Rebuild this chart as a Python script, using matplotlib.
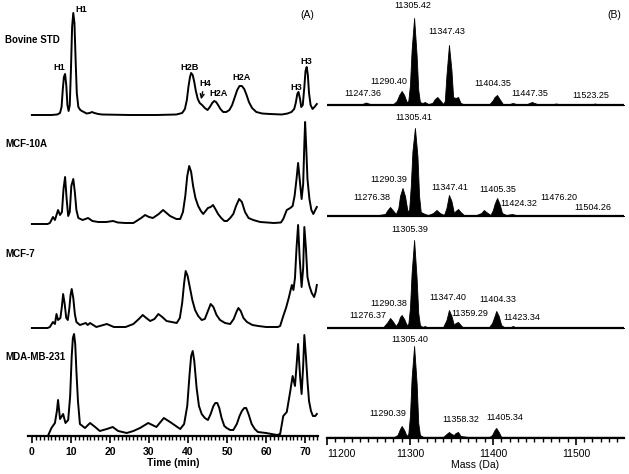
import numpy as np
import matplotlib
matplotlib.use('Agg')
import matplotlib.pyplot as plt

plt.rcParams['font.family'] = ['Liberation Sans', 'DejaVu Sans']

# ---- (A) chromatograms: time (min), signal ----
samples = ['Bovine STD', 'MCF-10A', 'MCF-7', 'MDA-MB-231']

t_bov = [0, 5, 6.5, 7.2, 7.6, 7.9, 8.2, 8.5, 8.8, 9.1, 9.4, 9.7, 10.0, 10.3, 10.6, 10.9, 11.2, 11.5, 11.9, 12.4,
         12.8, 13.3, 14.0, 14.8, 15.4, 16.0, 17.0, 18, 25, 32, 37, 38.5, 39.2, 39.7, 40.1, 40.5, 40.8, 41.2, 41.6,
         42.0, 42.5, 43.0, 43.6, 44.3, 45.0, 45.6, 46.2, 46.7, 47.2, 47.7, 48.3, 49.0, 49.8, 50.6, 51.3, 52.0,
         52.6, 53.2, 53.8, 54.4, 55.0, 55.6, 56.4, 57.5, 59, 61, 64, 65.5, 66.5, 67.2, 67.6, 68.0, 68.3, 68.7,
         69.0, 69.4, 69.8, 70.1, 70.4, 70.7, 71.0, 71.4, 71.9, 72.4, 73.0]
y_bov = [0, 0, 0.5, 2, 8, 25, 38, 41, 30, 10, 4, 10, 45, 88, 102, 92, 55, 22, 8, 5,
         4, 3, 1.5, 2, 3, 2, 1, 0.5, 0, 0, 0.5, 2, 6, 15, 28, 38, 42, 40, 33,
         24, 16, 12, 10, 7, 5, 8, 12, 14, 13, 10, 6, 3, 3, 5, 10, 18,
         25, 29, 29, 26, 20, 13, 7, 3, 1.5, 1, 0.5, 1.5, 3, 6, 12, 21, 23, 16,
         8, 10, 28, 44, 48, 40, 22, 10, 6, 8, 11]

t_10a = [0, 4.0, 4.6, 5.4, 5.9, 6.7, 7.2, 7.7, 8.1, 8.5, 8.9, 9.3, 9.7, 10.1, 10.6, 11.0, 11.4, 11.9, 13.0, 14.4,
         15.5, 17, 19, 20.8, 22, 24, 26, 26.8, 28, 29, 30, 31, 32.5, 33.6, 34.5, 35.4, 37, 38, 38.7, 39.3,
         39.8, 40.3, 40.8, 41.3, 41.9, 42.6, 43.3, 43.9, 44.5, 45.1, 45.8, 46.4, 47.0, 47.7, 48.5, 49.3, 50,
         50.8, 51.6, 52.3, 53.1, 53.8, 54.6, 55.5, 56.7, 58.5, 62, 63.8, 64.4, 65.3, 66.2, 66.8, 67.3, 67.8,
         68.2, 68.6, 69.1, 69.5, 69.8, 70.0, 70.3, 70.6, 71.1, 71.6, 72.1, 72.6, 73.0]
y_10a = [0, 0, 1, 7, 4, 14, 9, 12, 35, 47, 25, 8, 12, 38, 45, 32, 14, 6, 4, 6,
         3, 2, 2, 3, 1.5, 1, 1, 3, 6, 9, 7, 6, 10, 14, 11, 8, 5, 5, 12, 28,
         48, 58, 52, 38, 26, 18, 13, 10, 13, 16, 17, 19, 15, 10, 6, 3, 3,
         6, 10, 18, 25, 22, 12, 6, 4, 2, 1, 1.5, 5, 14, 16, 18, 28, 45,
         61, 45, 25, 40, 80, 102, 75, 45, 25, 14, 10, 14, 17]

t_7 = [0, 4.0, 4.6, 5.4, 5.9, 6.3, 6.7, 7.3, 7.7, 8.0, 8.4, 8.8, 9.2, 9.6, 9.9, 10.2, 10.6, 11.0, 11.4, 12.3,
       13.8, 14.3, 14.9, 16.5, 19.2, 21, 24, 26, 27.4, 28.4, 29.3, 30.3, 31.4, 32.4, 33.4, 34.5, 37.1, 37.9,
       38.5, 39.0, 39.4, 39.9, 40.5, 41.1, 41.8, 42.6, 43.5, 44.3, 45.0, 45.8, 46.5, 47.3, 48.2, 49.5,
       50.8, 51.7, 52.4, 52.9, 53.5, 54.2, 55.1, 56.5, 58, 60, 63.0, 63.6, 64.4, 65.1, 65.8, 66.6, 67.0,
       67.4, 67.8, 68.2, 68.6, 69.1, 69.5, 69.8, 70.2, 70.6, 71.1, 71.7, 72.3, 72.7, 73.0]
y_7 = [0, 0, 1, 6, 4, 14, 8, 10, 22, 34, 24, 10, 8, 20, 33, 39, 30, 14, 6, 3,
       5, 3, 5, 1, 4, 1, 1, 4, 9, 13, 10, 7, 9, 14, 11, 7, 5, 10,
       25, 45, 57, 52, 40, 28, 18, 12, 8, 9, 16, 24, 21, 13, 8, 5,
       4, 9, 16, 20, 17, 10, 6, 3, 2, 1, 1, 2, 12, 20, 30, 43, 38,
       50, 80, 103, 70, 41, 60, 101, 80, 51, 42, 35, 31, 36, 43]

t_mda = [0, 4.1, 5.0, 5.9, 6.4, 6.7, 7.2, 8.0, 8.6, 9.3, 9.8, 10.2, 10.5, 10.8, 11.1, 11.4, 11.8, 12.3, 13.6, 14.9,
         16.2, 17.4, 19.2, 20.7, 22.1, 24.3, 26, 27.7, 29.8, 31.9, 33.8, 35.4, 38, 39.0, 39.8, 40.4, 40.8,
         41.2, 41.6, 42.2, 42.8, 43.5, 44.3, 45.1, 45.8, 46.5, 47.0, 47.5, 48.0, 48.6, 49.3, 49.9, 50.8,
         51.6, 52.5, 53.2, 53.8, 54.4, 54.9, 55.5, 56.3, 57.1, 57.9, 60, 62.8, 63.6, 64.4, 65.3, 66.2, 66.8,
         67.4, 67.8, 68.2, 68.7, 69.1, 69.5, 69.8, 70.2, 70.6, 71.0, 71.5, 72.0, 72.6, 73.0]
y_mda = [0, 0, 8, 13, 25, 36, 17, 22, 13, 16, 40, 80, 98, 102, 92, 65, 35, 12, 8, 13,
         9, 5, 7, 9, 5, 3, 5, 8, 13, 9, 18, 14, 7, 12, 30, 62, 80, 85, 75, 48, 30, 22, 18,
         16, 22, 30, 33, 33, 28, 18, 10, 8, 6,
         6, 12, 20, 25, 28, 28, 22, 12, 7, 4, 3, 1, 2, 20, 24, 45, 60,
         50, 70, 92, 60, 42, 70, 101, 80, 55, 35, 25, 20, 20, 22]

chrom_t = [t_bov, t_10a, t_7, t_mda]
chrom_y = [y_bov, y_10a, y_7, y_mda]

# ---- (B) deconvoluted mass spectra: mass (Da), intensity ----
m_bov = [11200, 11240, 11244, 11247, 11250, 11255, 11270, 11280, 11284, 11287, 11290, 11293, 11296, 11298, 11300,
         11302, 11305, 11308, 11310, 11312, 11315, 11318, 11322, 11327, 11330, 11333, 11336, 11340, 11342, 11344,
         11347, 11350, 11352, 11355, 11358, 11361, 11366, 11380, 11396, 11400, 11402, 11405, 11408, 11412, 11420,
         11424, 11428, 11440, 11444, 11447, 11450, 11455, 11470, 11476, 11482, 11515, 11520, 11523, 11527, 11558]
i_bov = [0, 0, 1.5, 2.5, 1.5, 0.5, 0.5, 1, 4, 10, 14, 10, 3, 4, 20,
         55, 87, 50, 15, 3, 2, 3, 1, 2, 6, 8, 5, 1, 4, 30,
         60, 35, 8, 7, 8, 2, 0.5, 0.5, 1, 5, 8, 10, 6, 1, 1,
         2, 1, 0.5, 2, 3, 2, 0.5, 0.5, 1.5, 0.5, 0.5, 1, 1.5, 0.5, 0]

m_10a = [11200, 11225, 11230, 11250, 11262, 11270, 11273, 11276, 11279, 11283, 11286, 11288, 11291, 11294, 11297,
         11299, 11301, 11303, 11306, 11309, 11311, 11313, 11318, 11322, 11328, 11332, 11336, 11341, 11344, 11347,
         11350, 11353, 11355, 11358, 11361, 11365, 11380, 11386, 11389, 11392, 11397, 11400, 11402, 11405, 11408,
         11411, 11416, 11423, 11428, 11440, 11447, 11455, 11470, 11476, 11482, 11495, 11501, 11507, 11558]
i_10a = [0, 0, 1, 0.5, 1, 2, 6, 9, 6, 2, 8, 20, 28, 20, 5,
         6, 30, 65, 88, 60, 20, 4, 2, 1, 3, 6, 3, 1, 8, 21,
         15, 3, 5, 7, 4, 1, 1, 3, 6, 4, 1, 6, 12, 18, 12,
         3, 1, 2, 1, 0.5, 1, 0.5, 0.5, 1, 0.5, 0.5, 1, 0.5, 0]

m_7 = [11200, 11240, 11260, 11268, 11273, 11276, 11279, 11283, 11286, 11288, 11290, 11293, 11296, 11298, 11300,
       11302, 11305, 11308, 11310, 11312, 11315, 11318, 11321, 11330, 11340, 11344, 11347, 11350, 11353, 11355,
       11358, 11361, 11364, 11380, 11390, 11395, 11399, 11402, 11404, 11407, 11410, 11414, 11420, 11424, 11428,
       11440, 11450, 11460, 11470, 11480, 11490, 11558]
i_7 = [0, 0, 0.5, 1, 6, 10, 7, 2, 6, 11, 13, 9, 3, 4, 20,
       55, 88, 50, 15, 3, 1, 2, 0.5, 0.5, 1, 8, 18, 12, 3, 5,
       6, 3, 0.5, 0.5, 1, 0.5, 5, 12, 17, 12, 3, 0.5, 0.5, 2, 0.5,
       0.5, 1, 1, 0.5, 1, 0.5, 0]

m_mda = [11200, 11260, 11270, 11276, 11280, 11285, 11288, 11290, 11293, 11296, 11298, 11300, 11302, 11305, 11308,
         11310, 11312, 11316, 11330, 11340, 11344, 11347, 11350, 11353, 11355, 11358, 11361, 11375, 11395, 11399,
         11402, 11404, 11407, 11410, 11420, 11558]
i_mda = [0, 0, 0.5, 1, 0.5, 3, 9, 12, 8, 2, 4, 22, 60, 92, 55,
         15, 3, 1, 0.5, 1, 4, 6, 4, 3, 5, 6, 2, 0.5, 0.5, 3,
         8, 10, 6, 1, 0.5, 0]

spec_m = [m_bov, m_10a, m_7, m_mda]
spec_i = [i_bov, i_10a, i_7, i_mda]

# peak annotations in (B): label, mass position, height above spectrum baseline
ms_labels = [
    [('11305.42', 11303.6, 100), ('11347.43', 11344.6, 73), ('11290.40', 11274.7, 24), ('11247.36', 11243.4, 11),
     ('11404.35', 11400, 22), ('11447.35', 11444.6, 12), ('11523.25', 11518, 10)],
    [('11305.41', 11305, 98), ('11290.39', 11274.7, 37), ('11276.38', 11254, 18), ('11347.41', 11348, 28),
     ('11405.35', 11406, 27), ('11424.32', 11431, 12), ('11476.20', 11479.5, 18), ('11504.26', 11520.5, 8)],
    [('11305.39', 11300, 98), ('11290.38', 11274.7, 24), ('11276.37', 11249.4, 13), ('11347.40', 11345.8, 31),
     ('11359.29', 11372, 15), ('11404.33', 11406, 29), ('11423.34', 11435, 10)],
    [('11305.40', 11300, 98), ('11290.39', 11273.5, 24), ('11358.32', 11361.4, 19), ('11405.34', 11414.5, 20)],
]

W, H = 629, 474
fig = plt.figure(figsize=(W / 100, H / 100), dpi=100)

# y units ~ pixels above each time / mass axis
axA = fig.add_axes([28 / W, (H - 436) / H, 290 / W, 436 / H])
axB = fig.add_axes([327 / W, (H - 438) / H, 297 / W, 438 / H])

offA = [321, 212, 108, 0]
offB = [333, 222, 110, 0]
label_y = [396, 292, 182, 79]

for k in range(4):
    t = np.array(chrom_t[k])
    y = np.array(chrom_y[k])
    axA.plot(t, y + offA[k], color='black', lw=1.4, clip_on=False, solid_joinstyle='round')
    axA.text(-6.9, label_y[k], samples[k], fontsize=7, fontweight='bold', va='center', ha='left', clip_on=False)

# peak names on the standard
bold = dict(fontsize=6.6, fontweight='bold', ha='center', va='center')
axA.text(7.1, 368, 'H1', **bold)
axA.text(12.6, 427, 'H1', **bold)
axA.text(40.3, 369, 'H2B', **bold)
axA.text(44.4, 353, 'H4', **bold)
axA.text(47.7, 342, 'H2A', **bold)
axA.text(53.6, 358, 'H2A', **bold)
axA.text(67.7, 349, 'H3', **bold)
axA.text(70.3, 374, 'H3', **bold)
axA.text(70.5, 421, '(A)', fontsize=7.5, ha='center', va='center')
axA.annotate('', xy=(43.2, 334), xytext=(43.9, 347),
             arrowprops=dict(arrowstyle='->', color='black', lw=1.0, mutation_scale=7))

axA.set_xlim(-1, 73.3)
axA.set_ylim(0, 436)
axA.set_xticks(np.arange(0, 71, 10))
axA.set_xticks(np.arange(0, 74, 1), minor=True)
axA.set_xlabel('Time (min)', fontsize=7.5, fontweight='bold', labelpad=1)

for k in range(4):
    m = np.array(spec_m[k])
    inten = np.array(spec_i[k])
    axB.fill_between(m, offB[k], inten + offB[k], color='black', lw=0.6, clip_on=False)
    axB.axhline(offB[k], color='black', lw=1.6)
    for txt, mx, hy in ms_labels[k]:
        axB.text(mx, offB[k] + hy, txt, fontsize=6.5, ha='center', va='center')
axB.text(11546, 423, '(B)', fontsize=7.5, ha='center', va='center')

axB.set_xlim(11200, 11558)
axB.set_ylim(0, 438)
axB.set_xticks([11200, 11300, 11400, 11500])
axB.set_xticks(np.arange(11200, 11559, 10), minor=True)
axB.set_xlabel('Mass (Da)', fontsize=7.5, labelpad=1)

for ax in (axA, axB):
    for s in ('top', 'right', 'left'):
        ax.spines[s].set_visible(False)
    ax.spines['bottom'].set_linewidth(1.6)
    ax.set_yticks([])
    ax.tick_params(axis='x', which='major', direction='out', length=5, width=1.2, pad=3, labelsize=7.5)
    ax.tick_params(axis='x', which='minor', direction='out', length=3, width=1.0)
for lb in axA.get_xticklabels():
    lb.set_fontweight('bold')
axB.get_xticklabels()[0].set_horizontalalignment('left')

fig.savefig('out.png', dpi=100)
